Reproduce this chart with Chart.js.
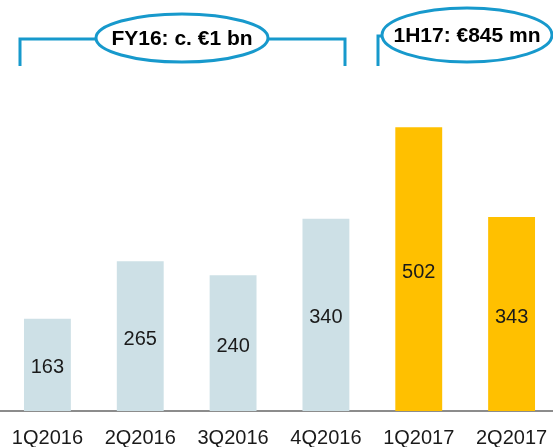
<!DOCTYPE html>
<html>
<head>
<meta charset="utf-8">
<script src="https://cdn.jsdelivr.net/npm/chart.js@4/dist/chart.umd.min.js"></script>
<style>
  html, body { margin: 0; padding: 0; background: #fff; overflow: hidden; }
  #wrap { position: absolute; left: 0; top: 0; width: 558px; height: 465px; }
</style>
</head>
<body>
<div id="wrap"><canvas id="bar-chart"></canvas></div>
<script>
// quarterly values (EUR mn)
const quarters = ['1Q2016', '2Q2016', '3Q2016', '4Q2016', '1Q2017', '2Q2017'];
const values = [163, 265, 240, 340, 502, 343];
const barColors = ['#cde0e6', '#cde0e6', '#cde0e6', '#cde0e6', '#ffc000', '#ffc000'];
const callouts = ['FY16: c. €1 bn', '1H17: €845 mn'];

const blue = '#1799cc';

// value labels in the middle of each bar
const valueLabels = {
    id: 'valueLabels',
    afterDatasetsDraw(chart) {
        const ctx = chart.ctx;
        ctx.save();
        ctx.font = '20px "Liberation Sans", Arial, sans-serif';
        ctx.fillStyle = '#1a1a1a';
        ctx.textAlign = 'center';
        ctx.textBaseline = 'middle';
        chart.getDatasetMeta(0).data.forEach((bar, i) => {
            ctx.fillText(values[i], bar.x, (bar.y + bar.base) / 2 + 3);
        });
        ctx.restore();
    }
};

// brackets + ellipses on top
const brackets = {
    id: 'brackets',
    afterDraw(chart) {
        const ctx = chart.ctx;
        ctx.save();
        ctx.strokeStyle = blue;
        ctx.lineWidth = 3;

        // left bracket
        ctx.beginPath();
        ctx.moveTo(20, 66);
        ctx.lineTo(20, 39);
        ctx.lineTo(96, 39);
        ctx.moveTo(268, 39);
        ctx.lineTo(345, 39);
        ctx.lineTo(345, 66);
        ctx.stroke();
        ctx.beginPath();
        ctx.ellipse(182, 38, 86, 24, 0, 0, Math.PI * 2);
        ctx.stroke();

        // right bracket
        ctx.beginPath();
        ctx.moveTo(378, 66);
        ctx.lineTo(378, 36);
        ctx.lineTo(383, 36);
        ctx.moveTo(551, 34);
        ctx.lineTo(560, 34);
        ctx.stroke();
        ctx.beginPath();
        ctx.ellipse(467, 35, 85, 27, 0, 0, Math.PI * 2);
        ctx.stroke();

        ctx.font = 'bold 21px "Liberation Sans", Arial, sans-serif';
        ctx.fillStyle = '#000';
        ctx.textAlign = 'center';
        ctx.textBaseline = 'middle';
        ctx.fillText(callouts[0], 182, 39);
        ctx.fillText(callouts[1], 467, 36);
        ctx.restore();
    }
};

new Chart(document.getElementById('bar-chart'), {
    type: 'bar',
    data: {
        labels: quarters,
        datasets: [{
            data: values,
            backgroundColor: barColors,
            categoryPercentage: 1,
            barPercentage: 0.505
        }]
    },
    options: {
        responsive: true,
        maintainAspectRatio: false,
        animation: false,
        layout: { padding: { left: 1, right: 0, top: 0, bottom: 0 } },
        plugins: {
            legend: { display: false },
            tooltip: { enabled: false }
        },
        scales: {
            x: {
                grid: { display: false, drawTicks: false },
                border: { display: true, color: '#8c8c8c', width: 2 },
                ticks: {
                    color: '#1a1a1a',
                    padding: 15,
                    maxRotation: 0,
                    autoSkip: false,
                    font: { family: '"Liberation Sans", Arial, sans-serif', size: 20 }
                },
                // labels may run off the edges, like in the original
                afterFit(scale) {
                    scale.paddingLeft = 0;
                    scale.paddingRight = 0;
                }
            },
            y: {
                display: false,
                min: 0,
                max: 727
            }
        }
    },
    plugins: [valueLabels, brackets]
});
</script>
</body>
</html>
